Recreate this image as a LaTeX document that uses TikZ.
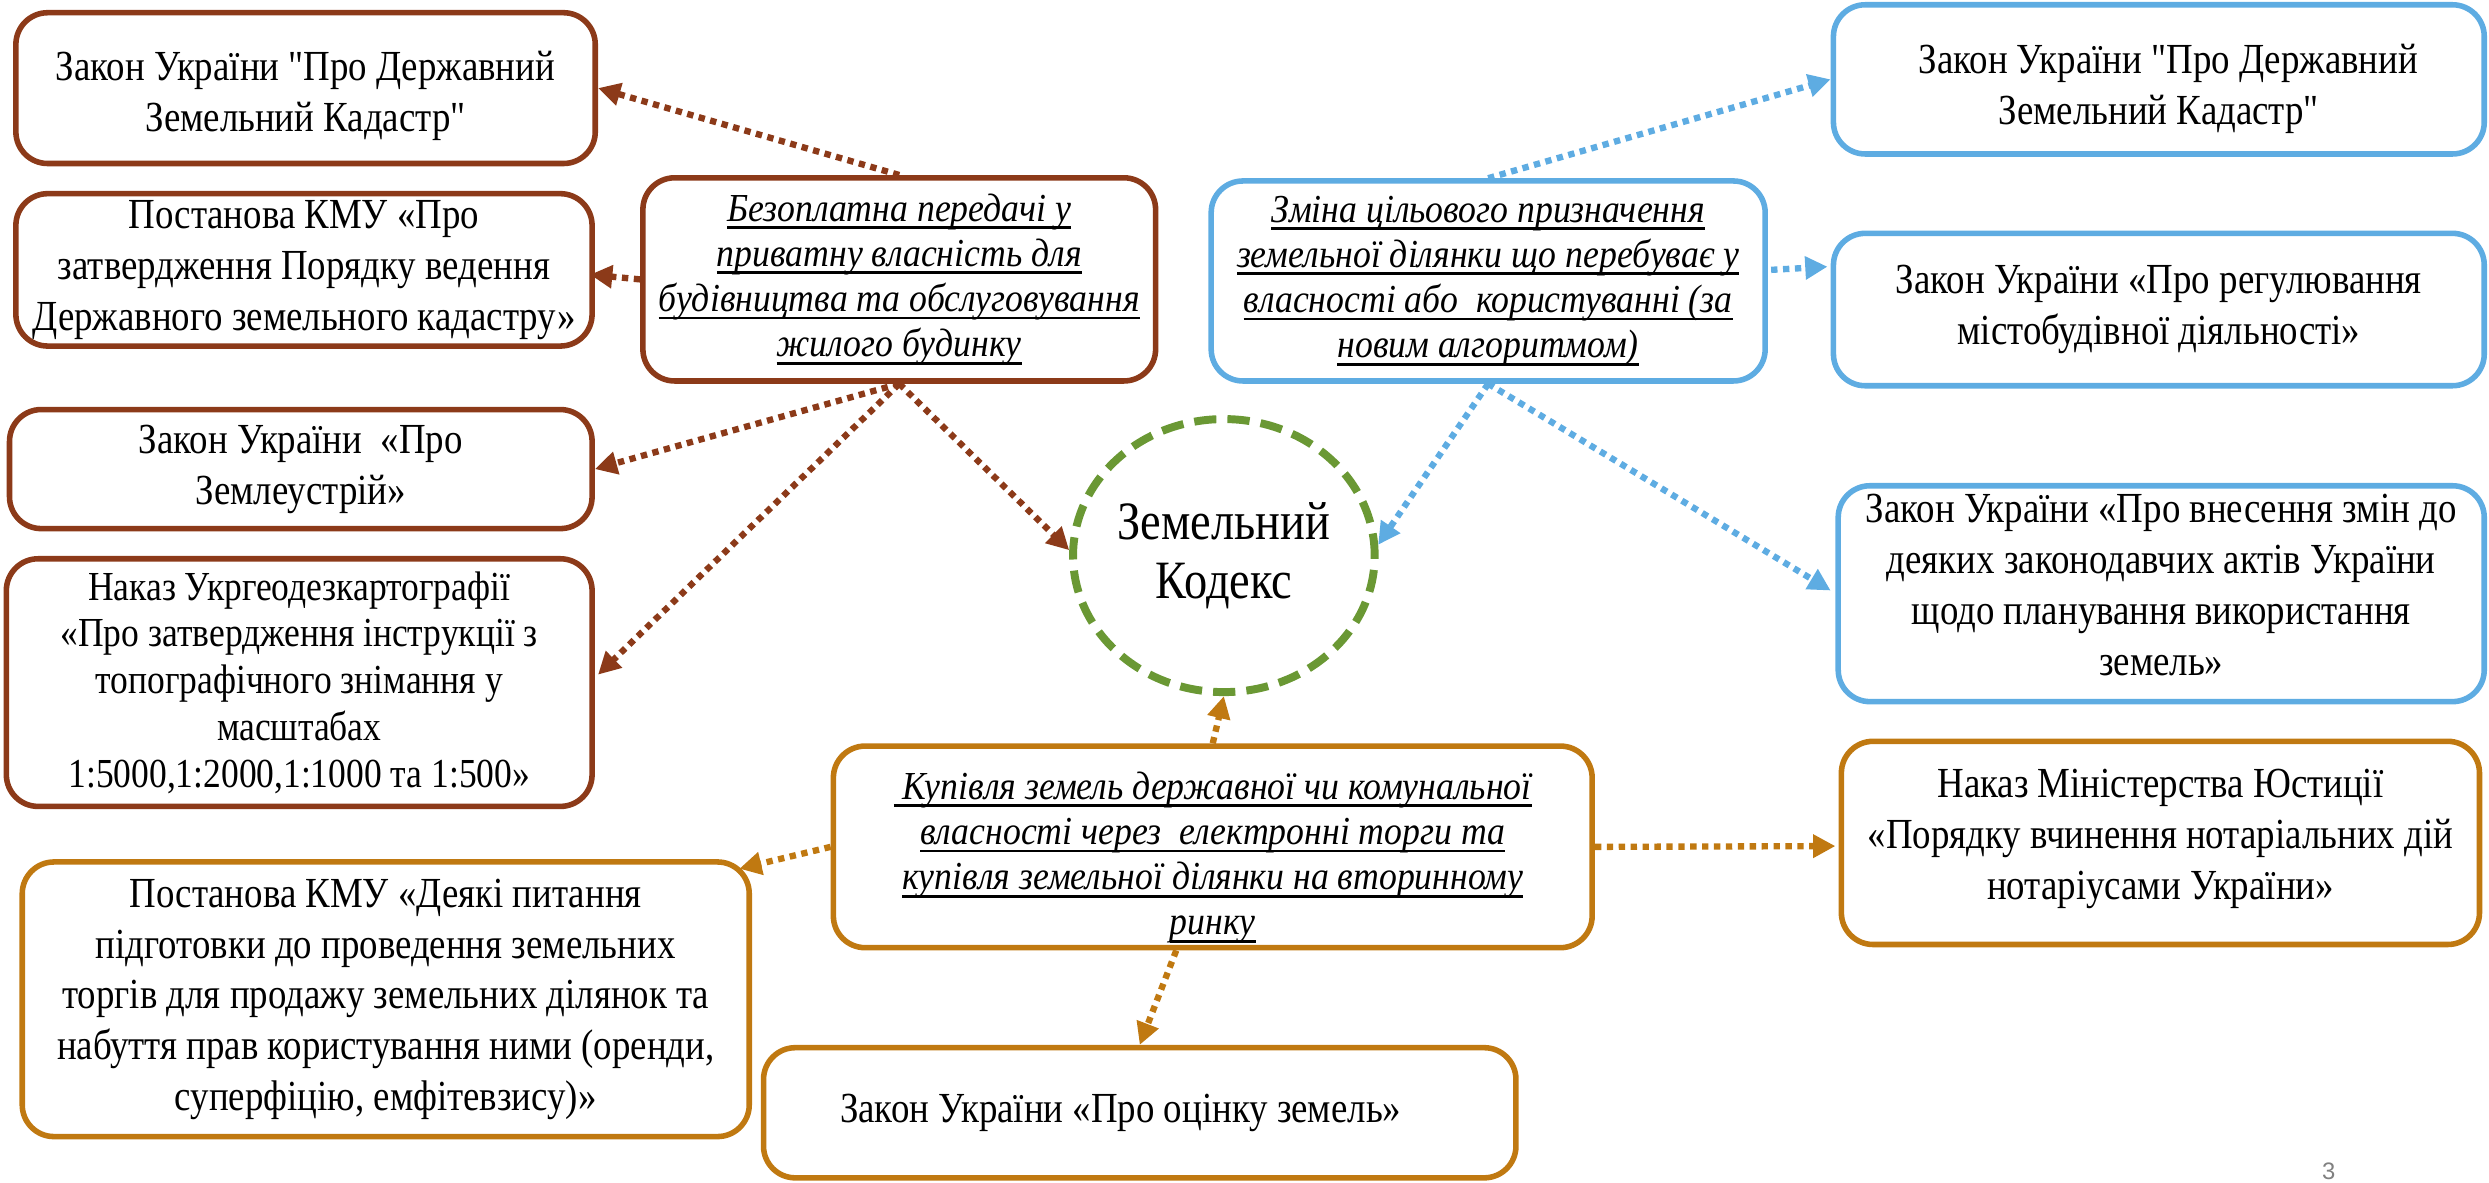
\documentclass[tikz,border=0pt]{standalone}
\usepackage{fontspec}
\setmainfont{Liberation Serif}[FakeStretch=0.86, ItalicFeatures={FakeStretch=0.9}]
\newfontfamily\qfont{Liberation Serif}[FakeStretch=0.86, Ligatures=TeXOff]
\setsansfont{Liberation Sans}
\usetikzlibrary{arrows.meta,calc,shapes.geometric}
\definecolor{cbrown}{RGB}{140,58,25}
\definecolor{cblue}{RGB}{94,172,226}
\definecolor{corange}{RGB}{192,121,17}
\definecolor{cgreen}{RGB}{106,152,52}
\newsavebox\ulbox
\newcommand\myul[1]{\sbox\ulbox{#1}\rlap{\rule[-0.2em]{\wd\ulbox}{0.07em}}\usebox\ulbox}
\newcommand\myregf{\fontsize{27}{32}\selectfont}
\newcommand\myitf{\fontsize{25}{28.5}\selectfont\itshape}
\newcommand\shiftedtext[2]{\raisebox{#1}[\height][\depth]{\begin{tabular}{@{}c@{}}#2\end{tabular}}}
\newcommand\sq{{\qfont"}}
\tikzset{
  box/.style={draw, line width=3.5pt, rounded corners=20pt, fill=white, inner sep=0pt, align=center, font=\myregf},
  brownbox/.style={box, draw=cbrown},
  bluebox/.style={box, draw=cblue},
  orangebox/.style={box, draw=corange},
  arr/.style={line width=4pt, dash pattern=on 4pt off 3.5pt, -{Triangle[length=14pt,width=14pt]}},
}
\begin{document}
\begin{tikzpicture}[x=1pt,y=-1pt]
\useasboundingbox (0,0) rectangle (1568,745);
% brown group
\node[brownbox, minimum width=365pt, minimum height=95pt] (b1) at (192.5,55.5) {\shiftedtext{-5pt}{Закон України \sq Про Державний\\Земельний Кадастр\sq}};
\node[brownbox, minimum width=363pt, minimum height=96pt] (b2) at (191.5,170) {Постанова КМУ «Про\\затвердження Порядку ведення\\Державного земельного кадастру»};
\node[brownbox, minimum width=367pt, minimum height=75pt] (b3) at (189.5,295.5) {Закон України\ \ «Про\\Землеустрій»};
\node[brownbox, minimum width=369pt, minimum height=156pt, font=\fontsize{26}{29.5}\selectfont] (b4) at (188.5,430) {Наказ Укргеодезкартографії\\«Про затвердження інструкції з\\топографічного знімання у\\масштабах\\1:5000,1:2000,1:1000 та 1:500»};
\node[brownbox, minimum width=323pt, minimum height=128pt, font=\myitf] (c1) at (566.5,176) {\myul{Безоплатна передачі у}\\\myul{приватну власність для}\\\myul{будівництва та обслуговування}\\\myul{жилого будинку}};
% blue group
\node[bluebox, minimum width=349pt, minimum height=126pt, font=\myitf] (c2) at (937.5,177) {\myul{Зміна цільового призначення}\\\myul{земельної ділянки що перебуває у}\\\myul{власності або\ \ користуванні (за}\\\myul{новим алгоритмом)}};
\node[bluebox, minimum width=410pt, minimum height=94pt] (r1) at (1360,50) {\shiftedtext{-6pt}{\hspace*{12pt}Закон України \sq Про Державний\\Земельний Кадастр\sq}};
\node[bluebox, minimum width=410pt, minimum height=96pt] (r2) at (1360,195) {Закон України «Про регулювання\\містобудівної діяльності»};
\node[bluebox, minimum width=407pt, minimum height=136pt] (r3) at (1361.5,374) {\shiftedtext{3pt}{Закон України «Про внесення змін до\\деяких законодавчих актів України\\щодо планування використання\\земель»}};
% centre
\node[ellipse, draw=cgreen, line width=5pt, dash pattern=on 14pt off 7pt, minimum width=190pt, minimum height=172pt, inner sep=0pt, align=center, font=\fontsize{34}{37}\selectfont] (zk) at (771,350) {Земельний\\Кодекс};
% orange group
\node[orangebox, minimum width=478pt, minimum height=127pt, font=\myitf] (c3) at (764,533.5) {\shiftedtext{-7pt}{\myul{\ Купівля земель державної чи комунальної}\\\myul{власності через\ \ електронні торги та}\\\myul{купівля земельної ділянки на вторинному}\\\myul{ринку}}};
\node[orangebox, minimum width=402pt, minimum height=128pt] (r4) at (1361,531) {\shiftedtext{3pt}{Наказ Міністерства Юстиції\\«Порядку вчинення нотаріальних дій\\нотаріусами України»}};
\node[orangebox, minimum width=458pt, minimum height=173pt] (l5) at (243,629.5) {Постанова КМУ «Деякі питання\\підготовки до проведення земельних\\торгів для продажу земельних ділянок та\\набуття прав користування ними (оренди,\\суперфіцію, емфітевзису)»};
\node[orangebox, minimum width=474pt, minimum height=82pt] (b6) at (718,701) {\hspace*{-24pt}Закон України «Про оцінку земель»};
\node[text=gray, font=\sffamily\fontsize{15}{17}\selectfont, inner sep=0pt] (pg) at (1467,738) {3};
% brown connectors
\draw[arr, cbrown] (c1.north) -- (b1.east);
\draw[arr, cbrown] (c1.west) -- ($(b2.east)+(-3,3)$);
\draw[arr, cbrown] (c1.south) -- (b3.east);
\draw[arr, cbrown] (c1.south) -- ($(b4.east)+(2,-5)$);
\draw[arr, cbrown] (c1.south) -- (zk.178);
% blue connectors
\draw[arr, cblue] (c2.north) -- (r1.west);
\draw[arr, cblue] ($(c2.east)+(2,-7)$) -- ($(r2.west)+(-2,-27)$);
\draw[arr, cblue] (c2.south) -- ($(r3.west)+(-3,-2)$);
\draw[arr, cblue] (c2.south) -- (zk.4);
% orange connectors
\draw[arr, corange] (c3.north) -- (zk.south);
\draw[arr, corange] (c3.east) -- ($(r4.west)+(-2,2)$);
\draw[arr, corange] (c3.west) -- ($(l5.north east)+(-8,6)$);
\draw[arr, corange] ($(c3.south)+(-23,0)$) -- (b6.north);
\end{tikzpicture}
\end{document}
